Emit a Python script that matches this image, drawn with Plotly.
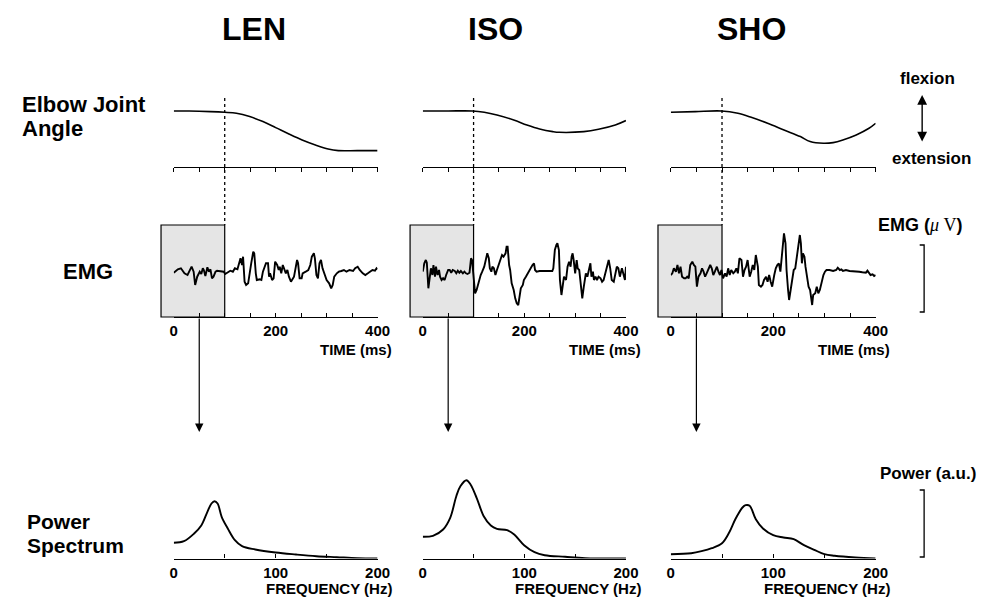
import plotly.graph_objects as go

W, H = 1002, 598
FONT = "Liberation Sans, Arial, Helvetica, sans-serif"

conditions = ["LEN", "ISO", "SHO"]

# ---------------- Elbow joint angle (relative units, flexion up) ----------------
len_angle_t = [0, 30, 72, 100, 123, 149, 175, 200, 226, 252, 278, 303, 323, 360, 400]
len_angle = [56.3, 56.3, 55.7, 55.0, 54.0, 50.7, 45.7, 39.7, 33.3, 27.3, 22.3, 18.3, 16.7, 16.7, 16.7]

iso_angle_t = [0, 50, 98, 121, 146, 179, 205, 230, 256, 269, 317, 346, 379, 400]
iso_angle = [56.3, 56.3, 56.3, 55.0, 52.3, 47.3, 42.3, 38.3, 35.7, 35.0, 35.7, 38.0, 42.3, 46.7]

sho_angle_t = [0, 48, 99, 131, 157, 189, 221, 253, 272, 298, 317, 336, 362, 387, 400]
sho_angle = [55.0, 55.7, 56.3, 54.0, 50.0, 44.0, 37.3, 30.7, 25.7, 24.0, 24.7, 27.3, 32.3, 39.0, 44.0]

# ---------------- EMG (arbitrary µV) ----------------
len_emg_t = [0, 8, 14, 21, 27, 32, 35, 39, 42, 46, 51, 54, 57, 59, 62, 66, 69, 72, 75, 78,
             82, 85, 91, 98, 101, 106, 111, 116, 120, 125, 129, 131, 134, 136, 139, 142, 146, 149, 152, 156,
             158, 161, 163, 169, 172, 175, 178, 181, 185, 187, 189, 193, 196, 199, 203, 206, 208, 211, 214, 217,
             220, 223, 226, 230, 233, 236, 239, 242, 244, 247, 251, 253, 259, 264, 268, 271, 275, 277, 280, 283,
             286, 289, 292, 295, 297, 300, 305, 309, 312, 315, 320, 324, 329, 334, 339, 345, 352, 356, 361, 365,
             371, 376, 381, 386, 390, 395, 398, 400]
len_emg = [-1.7, 1.7, 2.7, -2.3, -4.0, 1.0, 4.3, -0.7, -14.0, -5.7,
           -0.7, -3.0, 2.7, 1.0, -5.0, 3.7, -0.7, 1.7, -7.3, -5.7,
           -0.7, 0.3, 0.0, -0.7, -3.0, -1.7, 0.3, -0.7, 2.7, 1.7,
           9.3, 12.7, 6.0, 14.3, -10.7, -14.0, -12.3, -0.7, 7.7, 19.3,
           17.7, -2.3, -9.0, -8.3, -9.0, -0.7, 2.7, 7.7, 7.7, -5.7,
           -2.3, -9.0, -7.3, 9.3, 6.0, 1.0, 4.3, -2.3, 6.0, 2.7,
           -2.3, 1.0, -5.7, -10.7, -7.3, -5.7, 2.7, 11.0, 7.7, -7.3,
           -7.3, -2.3, -0.7, 1.0, 6.0, 14.3, 17.7, 12.7, -4.0, -7.3,
           7.7, 11.0, 2.7, -2.3, -4.0, -9.0, -12.3, -17.3, -14.0, -5.7,
           -2.3, -0.7, 0.0, 1.0, -0.7, 1.0, 0.0, 2.7, 4.3, 1.0,
           -2.3, -4.0, -2.3, -0.7, 1.0, 0.3, 2.7, 1.7]

iso_emg_t = [0, 3, 6, 8, 11, 14, 16, 19, 21, 24, 26, 29, 32, 34, 37, 40, 43, 46, 50, 53,
             56, 59, 63, 66, 69, 72, 75, 79, 82, 85, 88, 92, 95, 97, 100, 103, 106, 111, 114, 117,
             121, 124, 127, 130, 132, 135, 137, 140, 143, 146, 150, 153, 156, 159, 163, 165, 167, 170, 172, 175,
             179, 182, 185, 188, 190, 193, 197, 199, 203, 208, 212, 216, 219, 221, 224, 230, 237, 243, 250, 255,
             257, 260, 263, 265, 268, 270, 273, 276, 278, 282, 285, 288, 291, 293, 295, 297, 300, 303, 305, 308,
             311, 314, 317, 321, 324, 327, 330, 332, 335, 337, 340, 343, 346, 350, 353, 356, 359, 363, 366, 369,
             372, 376, 379, 382, 385, 388, 392, 395, 398, 400]
iso_emg = [-0.7, 7.7, 11.0, 8.3, -17.3, -5.7, 2.7, -4.0, 6.0, -5.7,
           4.3, -4.0, 1.0, -5.7, -9.0, -7.3, -9.0, -4.0, 1.0, 1.0,
           -1.7, 1.0, 0.0, -2.3, 0.3, -1.7, 0.0, -2.3, -0.7, -2.3,
           -3.0, -1.7, 12.7, 11.0, -5.7, -22.3, -19.0, -9.0, -4.0, -0.7,
           4.3, 11.0, 17.7, 12.7, 2.7, -0.7, 4.3, 2.7, -4.0, 1.0,
           7.7, 11.0, 16.0, 14.3, 17.7, 24.3, 24.3, 6.0, 1.0, -12.3,
           -19.0, -27.3, -32.3, -34.0, -25.7, -17.3, -14.0, -9.0, -5.7, -0.7,
           2.7, 6.0, 7.7, 1.0, -0.7, 0.0, 0.0, 0.0, 0.0, 0.0,
           2.7, 21.0, 26.0, 27.7, 21.0, -9.0, -24.0, -12.3, -5.7, -9.0,
           4.3, 9.3, 4.3, 14.3, 17.7, 11.0, -2.3, 11.0, 2.7, 1.0,
           -10.7, -27.3, -15.7, -2.3, -5.7, 2.7, 7.7, -5.7, -0.7, -9.0,
           -5.7, -9.0, -5.7, -7.3, -10.7, -9.0, -2.3, 4.3, 11.0, 2.7,
           -9.0, -10.7, -2.3, 4.3, 2.7, -5.7, 2.7, -4.0, -9.0, 4.3]

sho_emg_t = [0, 3, 6, 10, 13, 16, 19, 22, 26, 29, 32, 35, 38, 42, 45, 48, 51, 54, 58, 61,
             64, 67, 70, 74, 77, 80, 83, 86, 90, 93, 96, 99, 102, 106, 109, 112, 115, 118, 122, 125,
             128, 131, 134, 138, 141, 144, 147, 150, 152, 154, 157, 160, 163, 166, 170, 172, 176, 179, 182, 186,
             189, 192, 195, 198, 202, 205, 208, 211, 214, 218, 221, 224, 226, 229, 231, 234, 237, 240, 243, 246,
             250, 252, 254, 256, 258, 261, 263, 266, 269, 272, 274, 276, 278, 282, 285, 288, 291, 294, 298, 301,
             304, 310, 317, 323, 326, 330, 333, 336, 342, 349, 355, 362, 368, 374, 381, 384, 387, 390, 394, 397,
             400]
sho_emg = [-4.0, -2.3, 2.7, -0.7, 6.0, -2.3, 4.3, -5.7, -7.3, -7.3,
           -5.7, -7.3, 6.0, 9.3, 6.0, 4.3, -15.7, -5.7, -2.3, 2.7,
           -0.7, -5.7, -2.3, 2.7, 6.0, 2.7, -4.0, -0.7, 4.3, -0.7,
           -4.0, 1.0, -7.3, -2.3, -5.7, 2.7, -4.0, 1.0, -2.3, -0.7,
           2.7, -2.3, 12.7, 11.0, -5.7, 1.0, 4.3, 11.0, 4.3, -5.7,
           -0.7, 6.0, 1.0, 16.0, 4.3, -14.0, -15.7, -14.0, -9.0, -5.7,
           -10.7, -4.0, -10.7, -15.7, -4.0, 2.7, 6.0, 7.7, -0.7, 24.3,
           37.7, 27.7, 1.0, -19.0, -29.0, -19.0, -9.0, 1.0, 2.7, 14.3,
           24.3, 36.0, 27.7, 7.7, 17.7, 14.3, 4.3, -5.7, -15.7, -19.0,
           -29.0, -34.0, -24.0, -22.3, -15.7, -22.3, -19.0, -12.3, -4.0, -0.7,
           1.0, 1.0, 0.0, 1.0, 3.3, 1.0, 1.7, 0.0, 1.0, 0.0,
           0.0, -0.7, -0.7, -1.3, -1.7, 0.3, -2.3, -4.0, -3.3, -5.0,
           -4.0]

# ---------------- Power spectra (a.u.) ----------------
len_freq = [0, 10, 20, 27, 33, 37, 40, 43, 47, 53, 60, 67, 80, 100, 120, 140, 160, 180, 200]
len_power = [15.7, 17.3, 25.0, 33.0, 46.7, 55.0, 57.3, 55.0, 41.7, 30.0, 18.3, 12.3, 9.0, 6.0, 4.0, 2.3, 1.3, 0.3, 0.0]

iso_freq = [0, 10, 20, 27, 33, 37, 43, 47, 53, 60, 67, 73, 83, 90, 100, 110, 120, 140, 160, 200]
iso_power = [21.7, 22.7, 29.0, 40.7, 62.3, 72.3, 78.3, 74.0, 60.7, 42.3, 33.0, 29.7, 28.3, 24.0, 13.0, 6.3, 3.3, 1.7, 0.3, 0.0]

sho_freq = [0, 20, 30, 40, 50, 57, 63, 70, 73, 77, 83, 90, 100, 110, 120, 130, 140, 150, 160, 180, 200]
sho_power = [4.3, 5.3, 7.3, 10.3, 15.3, 26.0, 39.3, 51.0, 53.3, 52.7, 39.3, 30.0, 23.3, 21.0, 19.3, 13.3, 8.7, 4.3, 2.7, 1.0, 0.0]

# analysis window (ms) and movement onset (ms)
window_start, window_end = -25, 100
onset_ms = 100
arrow_ms = 50
time_range = [0, 400]
freq_range = [0, 200]
time_ticks = [0, 200, 400]
freq_ticks = [0, 100, 200]
emg_scale_bar = [-41, 26]
power_scale_bar = [1.5, 68.5]

angle_t = [len_angle_t, iso_angle_t, sho_angle_t]
angle_v = [len_angle, iso_angle, sho_angle]
emg_t = [len_emg_t, iso_emg_t, sho_emg_t]
emg_v = [len_emg, iso_emg, sho_emg]
spec_f = [len_freq, iso_freq, sho_freq]
spec_p = [len_power, iso_power, sho_power]


def px(x):
    return x / W


def py(y):
    return 1 - y / H


col_px = [(172.7, 380.0), (426.0, 632.7), (678.3, 886.7)]
row_px = [(87.3, 167.3), (225.0, 317.0), (468.5, 558.5)]
row_range = [[0, 80], [-46, 46], [0, 90]]

fig = go.Figure()
layout = dict(
    width=W, height=H, margin=dict(l=0, r=0, t=0, b=0),
    paper_bgcolor="white", plot_bgcolor="rgba(0,0,0,0)",
    showlegend=False, font=dict(family=FONT, color="black"),
)
shapes = []
annotations = []


def label(text, x, y, size, xanchor="center"):
    annotations.append(dict(x=px(x), y=py(y), xref="paper", yref="paper", xanchor=xanchor,
                            yanchor="middle", showarrow=False, text=text, align="left",
                            font=dict(family=FONT, size=size, color="black")))


for r in range(3):
    for c in range(3):
        n = r * 3 + c + 1
        xs = "" if n == 1 else str(n)
        x0, x1 = col_px[c]
        top, bot = row_px[r]
        xa = dict(domain=[px(x0), px(x1)], anchor="y" + xs, showgrid=False, zeroline=False,
                  showline=True, linecolor="black", linewidth=1.2, fixedrange=True,
                  tickcolor="black", tickwidth=1.2)
        if r == 0:
            xa.update(range=time_range, tickmode="linear", tick0=0, dtick=50, ticks="outside",
                      ticklen=4, showticklabels=False)
        elif r == 1:
            xa.update(range=time_range, tickmode="array", tickvals=time_ticks, ticks="inside", ticklen=4,
                      minor=dict(dtick=50, tick0=0, ticks="inside", ticklen=4, tickcolor="black", tickwidth=1.2),
                      tickfont=dict(family=FONT, size=15, color="black", weight="bold"))
        else:
            xa.update(range=freq_range, tickmode="array", tickvals=freq_ticks, ticks="inside", ticklen=4,
                      minor=dict(dtick=50, tick0=0, ticks="inside", ticklen=4, tickcolor="black", tickwidth=1.2),
                      tickfont=dict(family=FONT, size=15, color="black", weight="bold"))
        ya = dict(domain=[py(bot), py(top)], anchor="x" + xs, range=row_range[r], visible=False,
                  fixedrange=True)
        layout["xaxis" + xs] = xa
        layout["yaxis" + xs] = ya

        if r == 0:
            x, y = angle_t[c], angle_v[c]
            shape = "spline"
            w = 1.6
        elif r == 1:
            x, y = emg_t[c], emg_v[c]
            shape = "linear"
            w = 1.9
        else:
            x, y = spec_f[c], spec_p[c]
            shape = "spline"
            w = 1.9
        fig.add_trace(go.Scatter(x=x, y=y, mode="lines", xaxis="x" + xs, yaxis="y" + xs,
                                 line=dict(color="black", width=w, shape=shape), hoverinfo="skip"))

for c in range(3):
    n_top = c + 1
    n_emg = 3 + c + 1
    xs_top = "" if n_top == 1 else str(n_top)
    xs_emg = str(n_emg)
    span = time_range[1] - time_range[0]
    # shaded analysis window
    shapes.append(dict(type="rect", xref="x%s domain" % xs_emg, yref="y%s domain" % xs_emg,
                       x0=(window_start - time_range[0]) / span, x1=(window_end - time_range[0]) / span,
                       y0=0, y1=1, fillcolor="#e5e5e5", line=dict(color="black", width=1.2), layer="below"))
    # movement onset dashed line
    shapes.append(dict(type="line", xref="x" + xs_top, yref="paper", x0=onset_ms, x1=onset_ms,
                       y0=py(98), y1=py(225), line=dict(color="black", width=1.3, dash="dot")))
    # arrow from window to spectrum
    annotations.append(dict(x=arrow_ms, xref="x" + xs_emg, y=py(432), yref="paper", text="",
                            showarrow=True, ax=0, ay=-(432 - 317), axref="pixel", ayref="pixel",
                            arrowhead=2, arrowsize=1.4, arrowwidth=1.2, arrowcolor="black", standoff=0))
    # axis titles
    cx1 = col_px[c][1]
    label("<b>TIME (ms)</b>", cx1 + 17, 349, 15, xanchor="right")
    label("<b>FREQUENCY (Hz)</b>", cx1 + 17, 588, 15, xanchor="right")

# column headers
for name, cx in zip(conditions, [254, 500, 760]):
    label("<b>%s</b>" % name, cx, 29, 32)

# row labels
label("<b>Elbow Joint</b>", 16, 104, 22, xanchor="left")
label("<b>Angle</b>", 16, 129, 22, xanchor="left")
label("<b>EMG</b>", 85.5, 272, 22)
label("<b>Power</b>", 21, 521, 21, xanchor="left")
label("<b>Spectrum</b>", 21, 545, 21, xanchor="left")

# right-hand legend items
label("<b>flexion</b>", 939, 78, 17)
label("<b>extension</b>", 943, 158, 17)
annotations.append(dict(x=px(934), y=py(95), xref="paper", yref="paper", text="", showarrow=True,
                        ax=0, ay=48, axref="pixel", ayref="pixel", arrowside="end+start",
                        arrowhead=2, startarrowhead=2, arrowsize=1.4, startarrowsize=1.4,
                        arrowwidth=1.4, arrowcolor="black", standoff=0, startstandoff=0))
label("<b>EMG (</b><span style=\"font-family:'Liberation Serif', serif\"><i>μ</i> V</span><b>)</b>",
      932, 225, 18)
label("<b>Power (a.u.)</b>", 940, 473, 17)

# scale bars
bx0, bx1 = px(931.5), px(936)
shapes.append(dict(type="path", xref="paper", yref="y6",
                   path="M %f,%f L %f,%f L %f,%f L %f,%f" % (bx0, emg_scale_bar[1], bx1, emg_scale_bar[1],
                                                             bx1, emg_scale_bar[0], bx0, emg_scale_bar[0]),
                   line=dict(color="black", width=1.3)))
shapes.append(dict(type="path", xref="paper", yref="y9",
                   path="M %f,%f L %f,%f L %f,%f L %f,%f" % (bx0, power_scale_bar[1], bx1, power_scale_bar[1],
                                                             bx1, power_scale_bar[0], bx0, power_scale_bar[0]),
                   line=dict(color="black", width=1.3)))

layout["shapes"] = shapes
layout["annotations"] = annotations
fig.update_layout(**layout)
fig.write_html("out.html")
